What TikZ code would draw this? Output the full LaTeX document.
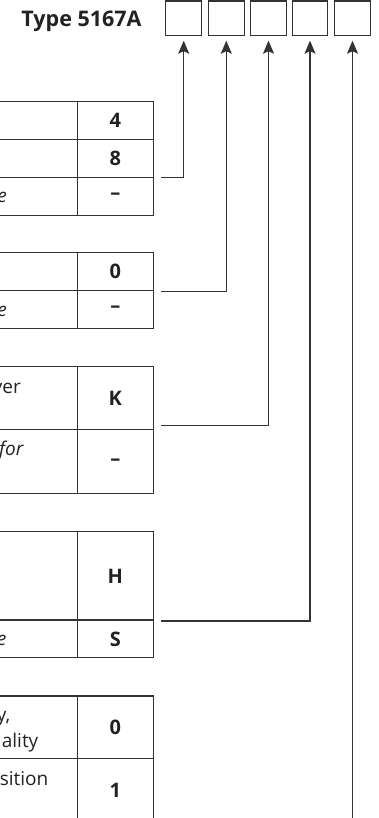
\documentclass[tikz,border=0pt]{standalone}
\usepackage{fontspec}
\setmainfont{Open Sans}
\usetikzlibrary{arrows.meta}
\definecolor{linecol}{HTML}{333333}
\definecolor{txtcol}{HTML}{222222}
\begin{document}
\begin{tikzpicture}[x=1pt,y=-1pt,
  grid/.style={draw=linecol, line width=1.1pt},
  slot/.style={draw=linecol, line width=1.1pt, minimum width=35.6pt, minimum height=34.7pt, inner sep=0pt, outer sep=0pt},
  val/.style={font=\fontsize{20}{24}\selectfont\bfseries, text=txtcol, inner sep=0pt},
  lab/.style={anchor=base east, font=\fontsize{19}{26}\selectfont, text=txtcol, inner sep=0pt},
  ilab/.style={lab, font=\fontsize{19}{26}\selectfont\itshape},
  conn/.style={draw=linecol, line width=1.1pt, -{Stealth[length=13pt,width=11pt,inset=2.5pt]}, shorten >=5pt}]
\useasboundingbox (0,0) rectangle (378,818);

% title and code slots
\node[anchor=base east, font=\fontsize{21.5}{26}\selectfont\bfseries, text=txtcol, inner sep=0pt] (title) at (141.7,26.7) {Type 5167A};
\node[slot] (b1) at (183.7,18.35) {};
\node[slot] (b2) at (226.3,18.35) {};
\node[slot] (b3) at (268.5,18.35) {};
\node[slot] (b4) at (310.0,18.35) {};
\node[slot] (b5) at (352.5,18.35) {};

% table 1
\draw[grid] (-5,101.7) rectangle (153.3,215.3);
\draw[grid] (77.3,101.7) -- (77.3,215.3);
\draw[grid] (-5,139.3) -- (153.3,139.3);
\draw[grid] (-5,177.3) -- (153.3,177.3);
\node[val] (v11) at (115.3,120.5) {4};
\node[val] (v12) at (115.3,158.3) {8};
\node[val] (v13) at (115.3,196.3) {–};
\node[ilab] (t13) at (7,203) {e};

% table 2
\draw[grid] (-5,252.7) rectangle (153.3,328.3);
\draw[grid] (77.3,252.7) -- (77.3,328.3);
\draw[grid] (-5,290.7) -- (153.3,290.7);
\node[val] (v21) at (115.3,271.7) {0};
\node[val] (v22) at (115.3,309.5) {–};
\node[ilab] (t22) at (7,316) {e};

% table 3
\draw[grid] (-5,366.7) rectangle (153.3,493.3);
\draw[grid] (77.3,366.7) -- (77.3,493.3);
\draw[grid] (-5,429.3) -- (153.3,429.3);
\node[val] (v31) at (115.3,398) {K};
\node[val] (v32) at (115.3,462) {–};
\node[lab] (t31) at (21,393) {ver};
\node[ilab] (t32) at (23.5,455) {for};

% table 4
\draw[grid] (-5,531.7) rectangle (153.3,657.3);
\draw[grid] (77.3,531.7) -- (77.3,657.3);
\draw[grid] (-5,620) -- (153.3,620);
\node[val] (v41) at (115.3,576) {H};
\node[val] (v42) at (115.3,639) {S};
\node[ilab] (t42) at (6.5,645) {e};

% table 5
\draw[grid] (-5,696) rectangle (153.3,822);
\draw[grid] (77.3,696) -- (77.3,822);
\draw[grid] (-5,758.3) -- (153.3,758.3);
\node[val] (v51) at (115.3,727.5) {0};
\node[val] (v52) at (115.3,790.5) {1};
\node[lab] (t51a) at (10.5,721) {y,};
\node[lab] (t51b) at (38.5,747) {ality};
\node[lab] (t52) at (48.5,785) {sition};

% connectors
\coordinate (c1) at (161,177.3);
\coordinate (c2) at (161,291.7);
\coordinate (c3) at (161,425.5);
\coordinate (c4) at (161,621);
\coordinate (c5) at (352.5,830);
\draw[conn] (c1) -| (b1.south);
\draw[conn] (c2) -| (b2.south);
\draw[conn] (c3) -| (b3.south);
\draw[conn] (c4) -| (b4.south);
\draw[conn] (c5) -- (b5.south);
\end{tikzpicture}
\end{document}
